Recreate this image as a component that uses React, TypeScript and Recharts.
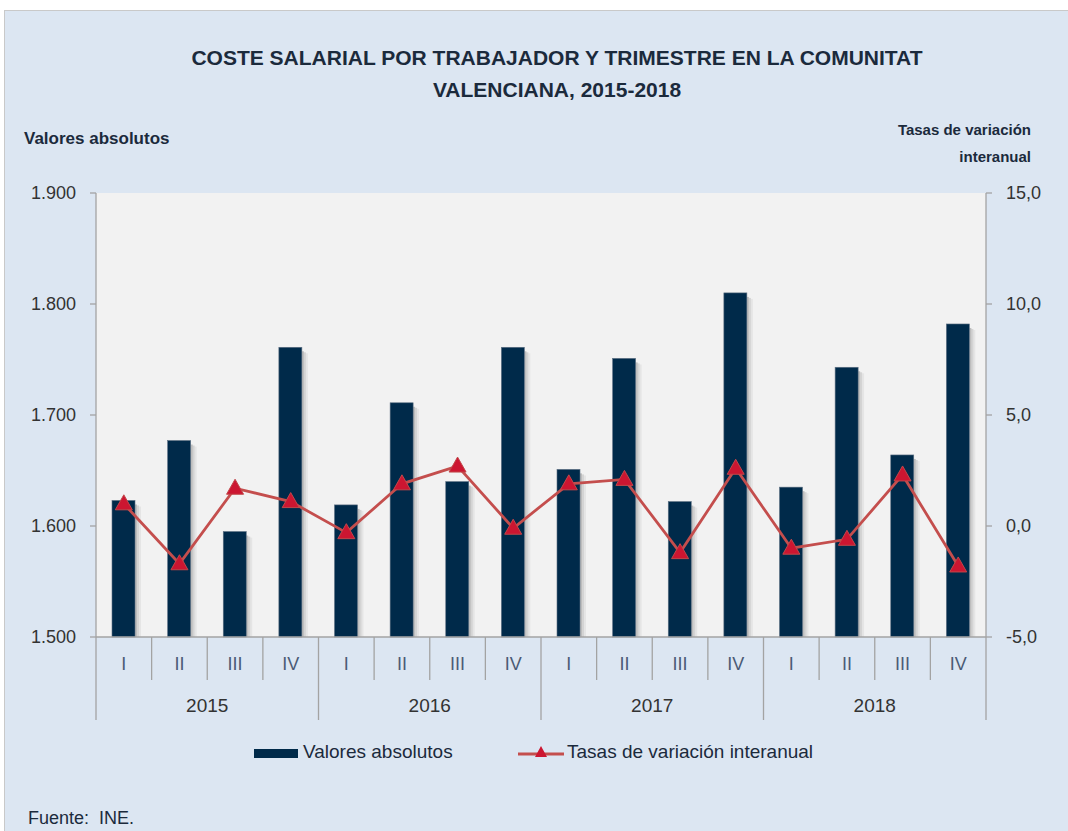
import React from 'react';
import { ComposedChart, Bar, Line, XAxis, YAxis, CartesianGrid } from 'recharts';

const quarters = ['I', 'II', 'III', 'IV', 'I', 'II', 'III', 'IV', 'I', 'II', 'III', 'IV', 'I', 'II', 'III', 'IV'];
const years = ['2015', '2016', '2017', '2018'];
const valoresAbsolutos = [1623, 1677, 1595, 1761, 1619, 1711, 1640, 1761, 1651, 1751, 1622, 1810, 1635, 1743, 1664, 1782];
const tasasVariacion = [1.0, -1.7, 1.7, 1.1, -0.3, 1.9, 2.7, -0.1, 1.9, 2.1, -1.2, 2.6, -1.0, -0.6, 2.3, -1.8];
const leftTicks = [1500, 1600, 1700, 1800, 1900];
const rightTicks = [-5, 0, 5, 10, 15];

const data = quarters.map((q, i) => ({
  key: `${years[Math.floor(i / 4)]}-${q}`,
  q,
  valor: valoresAbsolutos[i],
  tasa: tasasVariacion[i],
}));

const FONT = '"Liberation Sans", Arial, sans-serif';
const NAVY = '#002a4a';
const RED_LINE = '#c44e4d';
const RED_MARK = '#cc1631';
const AXIS = '#a3a3a3';
const TEXT = '#333333';
const DARK = '#1b2a3c';

// plot area
const PLOT_L = 96;
const PLOT_R = 986;
const PLOT_T = 193;
const PLOT_B = 637;
const PLOT_W = PLOT_R - PLOT_L;

const fmtLeft = (v: number) => {
  const s = String(v);
  return s.slice(0, s.length - 3) + '.' + s.slice(-3);
};
const fmtRight = (v: number) => v.toFixed(1).replace('.', ',');

const QuarterTick = (props: any) => {
  const { x, y, index } = props;
  const bw = PLOT_W / quarters.length;
  const left = x - bw / 2;
  const yearStart = index % 4 === 0;
  return (
    <g>
      <line x1={left} x2={left} y1={y} y2={yearStart ? 720 : 680} stroke={AXIS} strokeWidth={1.3} />
      {index === quarters.length - 1 && (
        <line x1={x + bw / 2} x2={x + bw / 2} y1={y} y2={720} stroke={AXIS} strokeWidth={1.3} />
      )}
      <text x={x} y={y + 33} textAnchor="middle" fontSize={18} fill="#4a5a75" fontFamily={FONT}>
        {quarters[index]}
      </text>
      {index % 4 === 2 && (
        <text x={left} y={y + 75} textAnchor="middle" fontSize={19} fill={TEXT} fontFamily={FONT}>
          {years[Math.floor(index / 4)]}
        </text>
      )}
    </g>
  );
};

const ShadowBar = (props: any) => {
  const { x, y, width, height } = props;
  if (!height || height <= 0) return null;
  return (
    <g>
      <rect x={x + width} y={y + 4} width={2} height={height - 4} fill="#000" opacity={0.22} />
      <rect x={x + width + 2} y={y + 5} width={2} height={height - 5} fill="#000" opacity={0.12} />
      <rect x={x + width + 4} y={y + 6} width={2} height={height - 6} fill="#000" opacity={0.05} />
      <rect x={x} y={y} width={width} height={height} fill={NAVY} stroke="#5c6f82" strokeWidth={0.6} />
    </g>
  );
};

const Triangle = (props: any) => {
  const { cx, cy, index } = props;
  if (cx == null || cy == null) return <g key={`t-${index}`} />;
  return (
    <polygon
      key={`t-${index}`}
      points={`${cx},${cy - 9} ${cx + 8.5},${cy + 6} ${cx - 8.5},${cy + 6}`}
      fill={RED_MARK}
      stroke="#c2474a"
      strokeWidth={1}
    />
  );
};

export default function App() {
  return (
    <div style={{ position: 'absolute', left: 0, top: 0, width: 1068, height: 831, background: '#ffffff', overflow: 'hidden', fontFamily: FONT }}>
      <div
        style={{
          position: 'absolute',
          left: 4,
          top: 10,
          width: 1064,
          height: 821,
          background: '#dce6f2',
          borderTop: '1px solid #c9c9c9',
          borderLeft: '1px solid #c9c9c9',
        }}
      />
      <div
        style={{
          position: 'absolute',
          left: 0,
          top: 42,
          width: 1114,
          textAlign: 'center',
          fontWeight: 'bold',
          fontSize: 21,
          lineHeight: '32px',
          color: DARK,
        }}
      >
        COSTE SALARIAL POR TRABAJADOR Y TRIMESTRE EN LA COMUNITAT
        <br />
        VALENCIANA, 2015-2018
      </div>
      <div style={{ position: 'absolute', left: 24, top: 129, fontWeight: 'bold', fontSize: 17, color: DARK }}>
        Valores absolutos
      </div>
      <div
        style={{
          position: 'absolute',
          right: 1068 - 1031,
          top: 116,
          textAlign: 'right',
          fontWeight: 'bold',
          fontSize: 15,
          lineHeight: '27px',
          color: DARK,
        }}
      >
        Tasas de variación
        <br />
        interanual
      </div>

      <div style={{ position: 'absolute', left: 0, top: 0 }}>
        <ComposedChart
          width={1068}
          height={831}
          data={data}
          margin={{ top: PLOT_T, left: PLOT_L - 60, right: 1068 - PLOT_R - 60, bottom: 831 - PLOT_B - 100 }}
        >
          <CartesianGrid horizontal={false} vertical={false} fill="#f2f2f2" />
          <XAxis
            dataKey="key"
            height={100}
            interval={0}
            tickSize={0}
            tickMargin={0}
            tickLine={false}
            axisLine={{ stroke: AXIS, strokeWidth: 1.3 }}
            tick={<QuarterTick />}
          />
          <YAxis
            yAxisId="left"
            orientation="left"
            width={60}
            domain={[1500, 1900]}
            ticks={leftTicks}
            tickFormatter={fmtLeft}
            tickSize={6}
            tickMargin={14}
            tick={{ fontSize: 18, fill: TEXT, fontFamily: FONT }}
            tickLine={{ stroke: AXIS, strokeWidth: 1.3 }}
            axisLine={{ stroke: AXIS, strokeWidth: 1.3 }}
          />
          <YAxis
            yAxisId="right"
            orientation="right"
            width={60}
            domain={[-5, 15]}
            ticks={rightTicks}
            tickFormatter={fmtRight}
            tickSize={6}
            tickMargin={14}
            tick={{ fontSize: 18, fill: TEXT, fontFamily: FONT }}
            tickLine={{ stroke: AXIS, strokeWidth: 1.3 }}
            axisLine={{ stroke: AXIS, strokeWidth: 1.3 }}
          />
          <Bar
            yAxisId="left"
            dataKey="valor"
            barSize={23}
            fill={NAVY}
            shape={<ShadowBar />}
            isAnimationActive={false}
          />
          <Line
            yAxisId="right"
            dataKey="tasa"
            stroke={RED_LINE}
            strokeWidth={2.8}
            dot={Triangle}
            activeDot={false}
            isAnimationActive={false}
          />
        </ComposedChart>
      </div>

      {/* legend */}
      <div style={{ position: 'absolute', left: 254, top: 749, width: 44, height: 9, background: NAVY }} />
      <div style={{ position: 'absolute', left: 303, top: 741, fontSize: 19, color: DARK }}>Valores absolutos</div>
      <svg style={{ position: 'absolute', left: 516, top: 742 }} width={50} height={22}>
        <line x1={2} x2={48} y1={12} y2={12} stroke={RED_LINE} strokeWidth={2.8} />
        <polygon points="25,4 31,15 19,15" fill={RED_MARK} />
      </svg>
      <div style={{ position: 'absolute', left: 567, top: 741, fontSize: 19, color: DARK }}>
        Tasas de variación interanual
      </div>

      <div style={{ position: 'absolute', left: 28, top: 808, fontSize: 18, color: DARK, whiteSpace: 'pre' }}>
        {'Fuente:  INE.'}
      </div>
    </div>
  );
}
